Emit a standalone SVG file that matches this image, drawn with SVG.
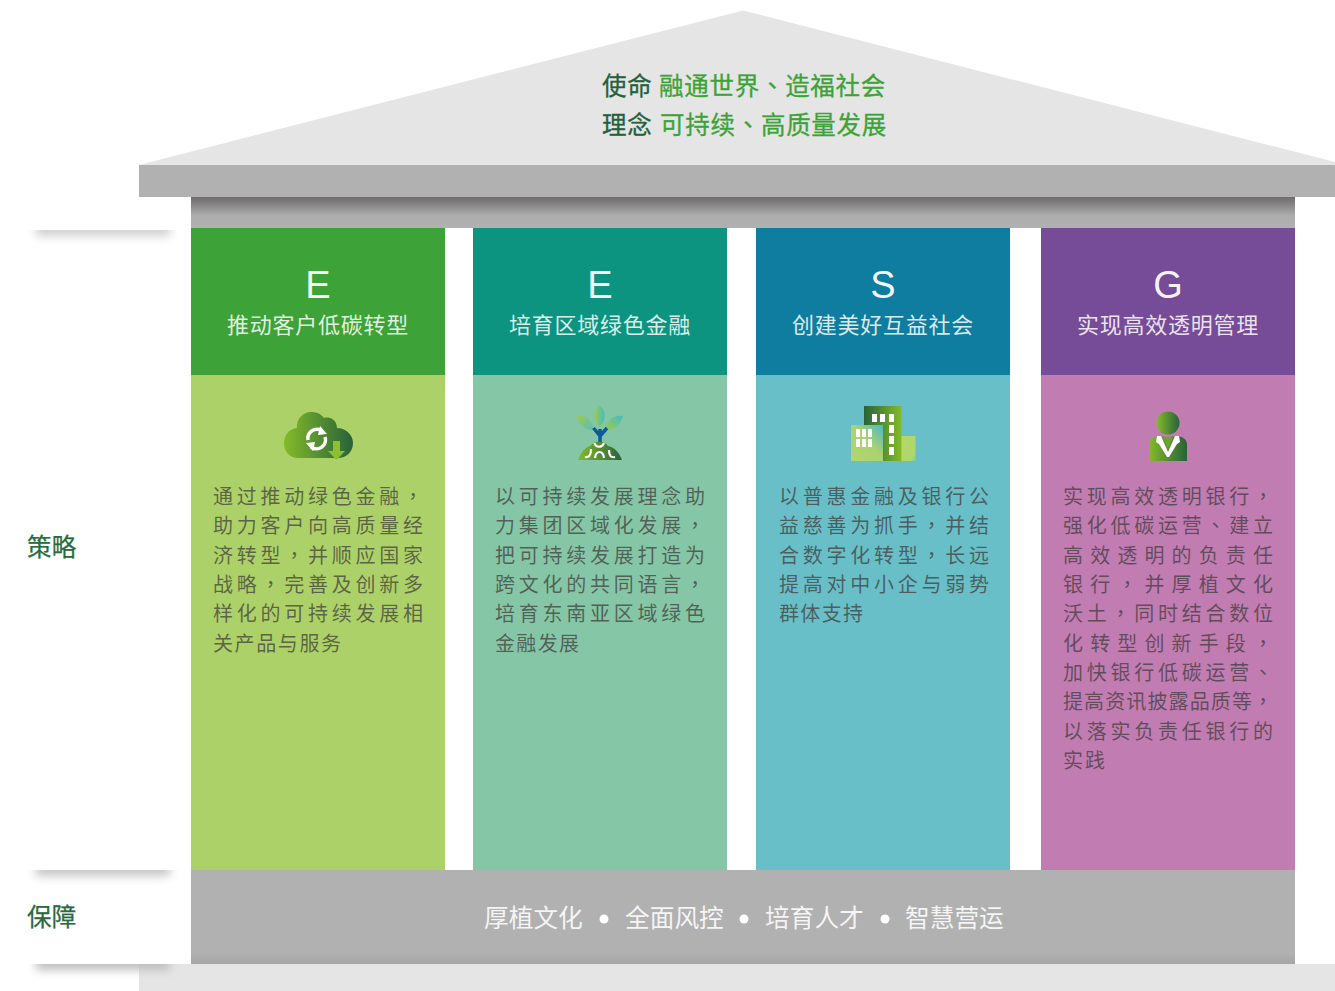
<svg xmlns="http://www.w3.org/2000/svg" width="1335" height="991" viewBox="0 0 1335 991">
<style>
text{font-family:"Noto Sans CJK SC","Noto Sans",sans-serif}
.p{font-family:"Noto Sans CJK TC","Noto Sans",sans-serif}
.b{font-size:20px;fill:#3e3a39;fill-opacity:.72}
.h{font-size:22px;fill:#fff;fill-opacity:.85;text-anchor:middle;letter-spacing:.75px}
.l{font-family:"Liberation Sans",sans-serif;font-size:38px;fill:#fff;fill-opacity:.95;text-anchor:middle}
.s{font-size:24.5px;fill:#2a6a3c;letter-spacing:.2px;stroke:#2a6a3c;stroke-width:.25px}
.t{font-size:24.5px;letter-spacing:.72px;stroke-width:.3px}
.d{fill:#24603a;stroke:#24603a}.g{fill:#3da238;stroke:#3da238}
.f{font-size:24.7px;fill:#fff;fill-opacity:.88}
</style>
<defs>
<linearGradient id="under" x1="0" y1="0" x2="0" y2="1"><stop offset="0" stop-color="#6d6b6b"/><stop offset=".6" stop-color="#adadad"/><stop offset="1" stop-color="#b1b1b1"/></linearGradient>
<linearGradient id="baseg" x1="0" y1="0" x2="0" y2="1"><stop offset="0" stop-color="#b1b1b1"/><stop offset=".88" stop-color="#b1b1b1"/><stop offset="1" stop-color="#a6a6a6"/></linearGradient>
<linearGradient id="gw" x1="0" y1="0" x2="1" y2="0"><stop offset="0" stop-color="#84bb29"/><stop offset="1" stop-color="#27623a"/></linearGradient>
<linearGradient id="gb" x1="0" y1="0" x2="1" y2="0"><stop offset="0" stop-color="#27623a"/><stop offset="1" stop-color="#84bb29"/></linearGradient>
<linearGradient id="leafL" x1="1" y1="1" x2="0" y2="0"><stop offset="0" stop-color="#56bfc0"/><stop offset="1" stop-color="#9ecb4a"/></linearGradient>
<linearGradient id="leafR" x1="0" y1="1" x2="1" y2="0"><stop offset="0" stop-color="#9ecb4a"/><stop offset="1" stop-color="#45bcc4"/></linearGradient>
<linearGradient id="leafM" x1="0" y1="0" x2="1" y2="0"><stop offset="0" stop-color="#9ecb4a"/><stop offset="1" stop-color="#45bcc4"/></linearGradient>
<linearGradient id="front" x1="0" y1="1" x2="1" y2="0"><stop offset="0" stop-color="#b3d76a"/><stop offset=".55" stop-color="#a9d272"/><stop offset="1" stop-color="#49b9c8"/></linearGradient>
<linearGradient id="small" x1="0" y1="0" x2="1" y2="1"><stop offset="0" stop-color="#b3d76a"/><stop offset=".8" stop-color="#b0d76c"/><stop offset="1" stop-color="#7fc9a8"/></linearGradient>
<filter id="blur" x="-20%" y="-200%" width="140%" height="500%"><feGaussianBlur stdDeviation="5"/></filter>
<clipPath id="c1"><rect x="0" y="230" width="190" height="22"/></clipPath>
<clipPath id="c2"><rect x="0" y="870" width="190" height="22"/></clipPath>
<clipPath id="c3"><rect x="0" y="964" width="190" height="22"/></clipPath>
</defs>
<rect width="1335" height="991" fill="#fff"/>

<g id="shadows">
<g clip-path="url(#c1)"><rect x="36" y="222" width="134" height="14" fill="#cfcfcf" filter="url(#blur)"/></g>
<g clip-path="url(#c2)"><rect x="36" y="862" width="134" height="14" fill="#c6c6c6" filter="url(#blur)"/></g>
</g>

<g id="roof">
<polygon points="139,165 743,10.500 1335,162 1335,166 139,166" fill="#e5e5e5"/>
<rect x="139" y="165" width="1196" height="32" fill="#b1b1b1"/>
<rect x="191" y="197" width="1104" height="31" fill="url(#under)"/>
<text class="t d" x="602" y="95">使命</text>
<text class="t g" x="659" y="95">融通世界<tspan class="p">、</tspan>造福社会</text>
<text class="t d" x="602" y="134">理念</text>
<text class="t g" x="660" y="134">可持续<tspan class="p">、</tspan>高质量发展</text>
</g>

<g id="label-strategy"><text class="s" x="27" y="556">策略</text></g>
<g id="label-support"><text class="s" x="27" y="926">保障</text></g>

<g id="pillar-e1">
<rect x="191" y="228" width="254" height="147" fill="#3da238"/>
<rect x="191" y="375" width="254" height="495" fill="#acd168"/>
<text class="l" x="318" y="298">E</text>
<text class="h" x="318" y="333">推动客户低碳转型</text>
<path d="M298 458C289 458 284 451 284 443C284 435 289 429 297 428C296 419 303 412 311 412C317 412 321 414 324 418C331 416 337 421 337 428C346 428 353 435 353 443C353 452 346 458 338 458Z" fill="url(#gw)"/>
<path d="M333 441h7v10h5l-8.500 9l-8.500-9h5z" fill="#8dc02f"/>
<g fill="none" stroke="#fff" stroke-width="3.500"><path d="M308 440A9 9 0 0 1 322 431"/><path d="M325 437A9 9 0 0 1 311 447"/></g>
<polygon points="320,426 327,434 318,435" fill="#fff"/><polygon points="313,451 306,443 315,442" fill="#fff"/>
<g class="b">
<text x="213" y="504" textLength="210">通过推动绿色金融<tspan class="p">，</tspan></text>
<text x="213" y="533" textLength="210">助力客户向高质量经</text>
<text x="213" y="563" textLength="210">济转型<tspan class="p">，</tspan>并顺应国家</text>
<text x="213" y="592" textLength="210">战略<tspan class="p">，</tspan>完善及创新多</text>
<text x="213" y="621" textLength="210">样化的可持续发展相</text>
<text x="213" y="651" textLength="128">关产品与服务</text>
</g>
</g>

<g id="pillar-e2">
<rect x="473" y="228" width="254" height="147" fill="#0d9480"/>
<rect x="473" y="375" width="254" height="495" fill="#85c6a6"/>
<text class="l" x="600" y="298">E</text>
<text class="h" x="600" y="333">培育区域绿色金融</text>
<path d="M599.500 405C606 411 607 419 599.500 427C592 419 593 411 599.500 405Z" fill="url(#leafM)"/>
<path d="M576 415C586 415 592 420 594 430C585 431 579 425 576 415Z" fill="url(#leafL)"/>
<path d="M623 416C613 415 607 420 605 430C614 431 620 426 623 416Z" fill="url(#leafR)"/>
<path d="M600 442V429M600 436L593.500 428M600 436L607 428" stroke="#0b5a9c" stroke-width="3.500" fill="none"/>
<path d="M578 460C580 454 584 448 590 446C594 441 604 440 608 446C615 447 620 454 622 460Z" fill="url(#gw)"/>
<g fill="none" stroke="#fff" stroke-width="2.200"><path d="M594.500 443C596 448 602 448 604 443"/><path d="M591 449C591 455 589 458 585 457"/><path d="M595 458C596 450 603 450 604 458"/><path d="M609 450C609 456 611 458 615 457"/></g>
<g class="b">
<text x="495" y="504" textLength="210">以可持续发展理念助</text>
<text x="495" y="533" textLength="210">力集团区域化发展<tspan class="p">，</tspan></text>
<text x="495" y="563" textLength="210">把可持续发展打造为</text>
<text x="495" y="592" textLength="210">跨文化的共同语言<tspan class="p">，</tspan></text>
<text x="495" y="621" textLength="210">培育东南亚区域绿色</text>
<text x="495" y="651" textLength="84">金融发展</text>
</g>
</g>

<g id="pillar-s">
<rect x="756" y="228" width="254" height="147" fill="#0f7da0"/>
<rect x="756" y="375" width="254" height="495" fill="#69bfc7"/>
<text class="l" x="883" y="298">S</text>
<text class="h" x="883" y="333">创建美好互益社会</text>
<rect x="864" y="406" width="37.500" height="55" fill="url(#gb)"/>
<rect x="851" y="425" width="32" height="36" fill="url(#front)"/>
<rect x="901.500" y="436" width="14" height="25" fill="url(#small)"/>
<g fill="#fff">
<rect x="872" y="414" width="5" height="8"/><rect x="880" y="414" width="5" height="8"/><rect x="889" y="414" width="5" height="8"/>
<rect x="889" y="425" width="5" height="8"/><rect x="889" y="436" width="5" height="8"/><rect x="889" y="447" width="5" height="8"/>
<rect x="856" y="429" width="4" height="8"/><rect x="862" y="429" width="4" height="8"/><rect x="868" y="429" width="4" height="8"/>
<rect x="856" y="439" width="4" height="8"/><rect x="862" y="439" width="4" height="8"/><rect x="868" y="439" width="4" height="8"/>
</g>
<g class="b">
<text x="779" y="504" textLength="210">以普惠金融及银行公</text>
<text x="779" y="533" textLength="210">益慈善为抓手<tspan class="p">，</tspan>并结</text>
<text x="779" y="563" textLength="210">合数字化转型<tspan class="p">，</tspan>长远</text>
<text x="779" y="592" textLength="210">提高对中小企与弱势</text>
<text x="779" y="621" textLength="84">群体支持</text>
</g>
</g>

<g id="pillar-g">
<rect x="1041" y="228" width="254" height="147" fill="#764c98"/>
<rect x="1041" y="375" width="254" height="495" fill="#c17cb2"/>
<text class="l" x="1168" y="298">G</text>
<text class="h" x="1168" y="333">实现高效透明管理</text>
<circle cx="1168" cy="423" r="11.500" fill="url(#gw)"/>
<path d="M1149 461V445C1149 439 1153 437 1158 436L1168 437L1178 436C1183 437 1187 439 1187 445V461Z" fill="url(#gw)"/>
<path d="M1157 436L1161 436L1168 452L1175 436L1179 436L1180 442L1177 444L1169 457H1167L1159 444L1156 442Z" fill="#fff"/>
<path d="M1163 437H1173L1168 449Z" fill="#6ea32f"/>
<g class="b">
<text x="1063" y="504" textLength="210">实现高效透明银行<tspan class="p">，</tspan></text>
<text x="1063" y="533" textLength="210">强化低碳运营<tspan class="p">、</tspan>建立</text>
<text x="1063" y="563" textLength="210">高效透明的负责任</text>
<text x="1063" y="592" textLength="210">银行<tspan class="p">，</tspan>并厚植文化</text>
<text x="1063" y="621" textLength="210">沃土<tspan class="p">，</tspan>同时结合数位</text>
<text x="1063" y="651" textLength="210">化转型创新手段<tspan class="p">，</tspan></text>
<text x="1063" y="680" textLength="210">加快银行低碳运营<tspan class="p">、</tspan></text>
<text x="1063" y="709" textLength="210">提高资讯披露品质等<tspan class="p">，</tspan></text>
<text x="1063" y="739" textLength="210">以落实负责任银行的</text>
<text x="1063" y="768" textLength="42">实践</text>
</g>
</g>

<g id="base">
<rect x="191" y="870" width="1104" height="94" fill="url(#baseg)"/>
<rect x="139" y="964" width="1196" height="27" fill="#e5e5e5"/>
<g clip-path="url(#c3)"><rect x="36" y="956" width="134" height="14" fill="#bdbdbd" filter="url(#blur)"/></g>
<text class="f" x="484" y="927">厚植文化</text>
<circle cx="604" cy="919" r="4.500" fill="#fff"/>
<text class="f" x="625" y="927">全面风控</text>
<circle cx="744" cy="919" r="4.500" fill="#fff"/>
<text class="f" x="765" y="927">培育人才</text>
<circle cx="885" cy="919" r="4.500" fill="#fff"/>
<text class="f" x="905" y="927">智慧营运</text>
</g>
</svg>
